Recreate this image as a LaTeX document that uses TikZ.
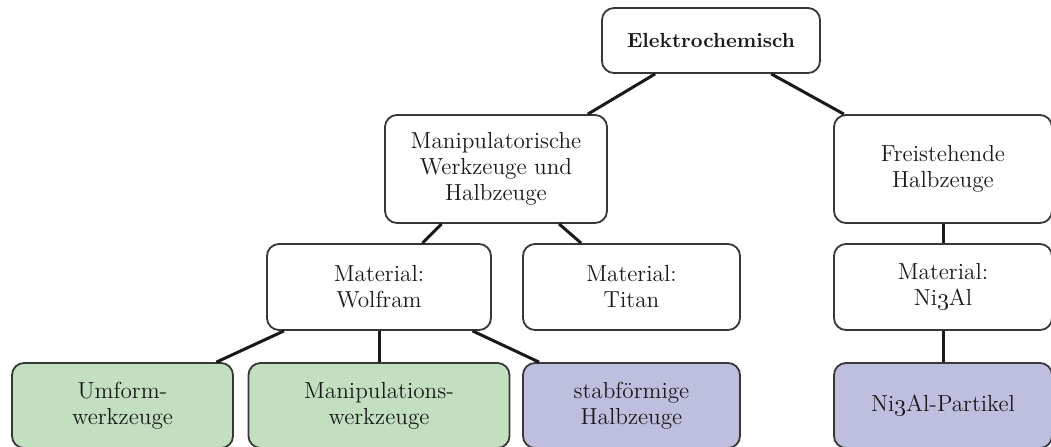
\documentclass[tikz,border=0pt]{standalone}
\definecolor{boxline}{RGB}{55,55,55}
\definecolor{linkc}{RGB}{25,25,25}
\definecolor{textc}{RGB}{25,25,25}
\definecolor{greenfill}{RGB}{194,224,192}
\definecolor{purplefill}{RGB}{190,191,223}
\begin{document}
\begin{tikzpicture}[x=0.5pt,y=-0.5pt,
  box/.style={draw=boxline, line width=0.9pt, rounded corners=6pt, fill=white,
    align=center, inner sep=0pt, text=textc, font=\fontsize{11.6}{13}\selectfont},
  gbox/.style={box, fill=greenfill},
  pbox/.style={box, fill=purplefill},
  sz/.style 2 args={minimum width=#1*0.5pt, minimum height=#2*0.5pt},
  link/.style={draw=linkc, line width=1.5pt}]
\useasboundingbox (0,0) rectangle (1051,446);
\node[box, sz={218}{65}] (E) at (711,40.5) {\fontsize{10.2}{12}\selectfont\bfseries Elektrochemisch};
\node[box, sz={222}{108}] (M) at (496,169) {Manipulatorische\\Werkzeuge und\\Halbzeuge};
\node[box, sz={218}{108}] (F) at (943,169) {Freistehende\\Halbzeuge};
\node[box, sz={224}{86}] (W) at (379,287) {Material:\\Wolfram};
\node[box, sz={217}{86}] (T) at (631.5,287) {Material:\\Titan};
\node[box, sz={218}{86}] (N) at (943,287) {Material:\\Ni\oldstylenums{3}Al};
\node[gbox, sz={221}{85}] (U) at (122.5,405.5) {Umform-\\werkzeuge};
\node[gbox, sz={261}{85}] (Mw) at (379,405.5) {Manipulations-\\werkzeuge};
\node[pbox, sz={217}{85}] (S) at (631.5,405.5) {stabförmige\\Halbzeuge};
\node[pbox, sz={218}{85}] (P) at (943,405.5) {Ni\oldstylenums{3}Al-Partikel};
\draw[link] (E) -- (M);
\draw[link] (E) -- (F);
\draw[link] (M) -- (W);
\draw[link] (M) -- (T);
\draw[link] (F) -- (N);
\draw[link] (W) -- (U);
\draw[link] (W) -- (Mw);
\draw[link] (W) -- (S);
\draw[link] (N) -- (P);
\end{tikzpicture}
\end{document}
